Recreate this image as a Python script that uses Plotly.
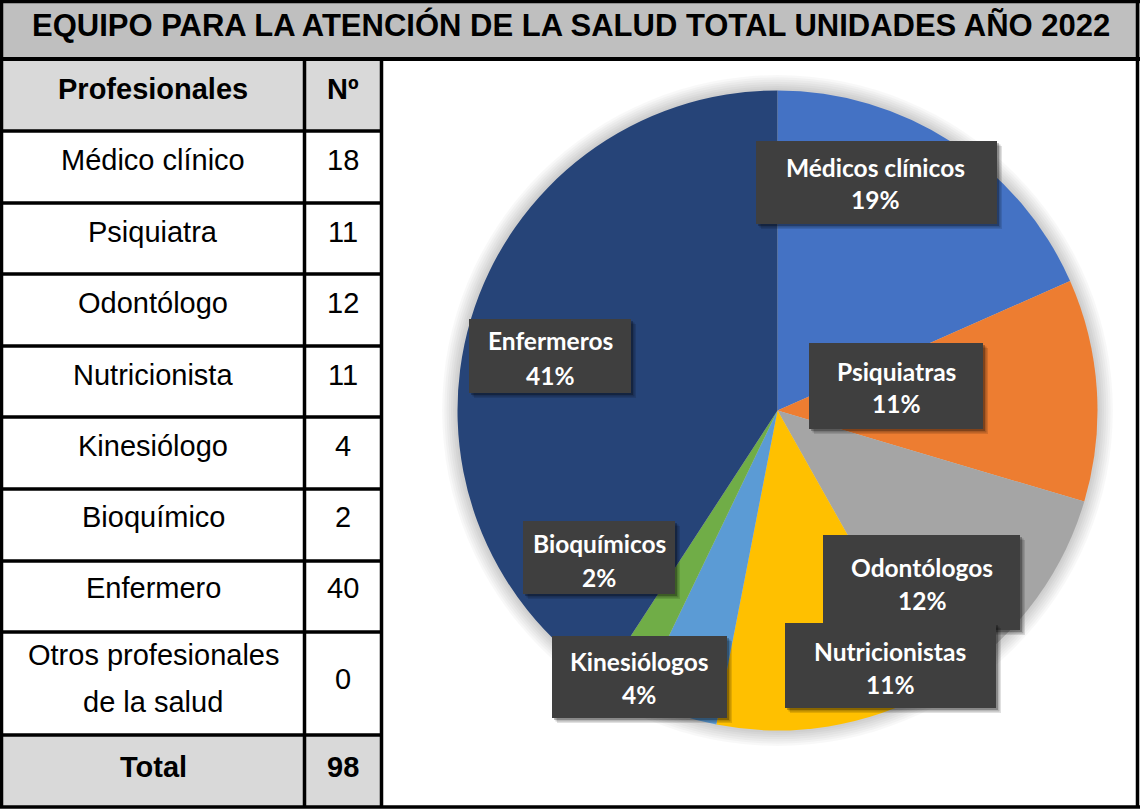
import plotly.graph_objects as go

# ---------------- data ----------------
title_text = "EQUIPO PARA LA ATENCIÓN DE LA SALUD TOTAL UNIDADES AÑO 2022"
header = ["Profesionales", "Nº"]
profesionales = ["Médico clínico", "Psiquiatra", "Odontólogo", "Nutricionista",
                 "Kinesiólogo", "Bioquímico", "Enfermero",
                 "Otros profesionales|de la salud"]
cantidades = [18, 11, 12, 11, 4, 2, 40, 0]
total_label = "Total"
total_value = 98

pie_labels = ["Médicos clínicos", "Psiquiatras", "Odontólogos", "Nutricionistas",
              "Kinesiólogos", "Bioquímicos", "Enfermeros"]
pie_values = [18, 11, 12, 11, 4, 2, 40]
pie_pct_text = ["19%", "11%", "12%", "11%", "4%", "2%", "41%"]

# ---------------- styles / layout ----------------
W, H = 1140, 809
pie_colors = ["#4472C4", "#ED7D31", "#A5A5A5", "#FFC000", "#5B9BD5", "#70AD47", "#264478"]


def X(px):
    return px / W


def Y(py):
    return 1 - py / H


# table geometry (pixels)
col_x = [0, 304.5, 381.5]
title_bottom = 59
row_lines = [59, 131, 203, 274, 346, 417, 489, 561, 632, 735, 807]
text_y = [160, 232, 303, 375, 446, 517, 588]
otros_lines_y = [655, 702]

# pie geometry
cx, cy, R = 777.5, 410.5, 320

# label boxes: (x0, y0, x1, y1) and text centre lines
label_boxes = [
    (756, 141, 997, 224),
    (809, 343, 983, 429),
    (823, 535, 1020, 630),
    (785, 623, 996, 708),
    (552, 636, 727, 718),
    (523, 521, 675, 594),
    (469, 319, 631, 393),
]
label_text_pos = [
    (876, 167, 199),
    (896, 371, 403),
    (922, 567, 600),
    (890, 651, 684),
    (639, 661, 694),
    (599, 543, 577),
    (550, 341, 375),
]

fig = go.Figure()
fig.add_trace(go.Pie(
    labels=pie_labels,
    values=pie_values,
    marker=dict(colors=pie_colors, line=dict(width=0)),
    sort=False,
    direction="clockwise",
    rotation=0,
    textinfo="none",
    hoverinfo="label+value",
    showlegend=False,
    domain=dict(x=[X(cx - R), X(cx + R)], y=[Y(cy + R), Y(cy - R)]),
))

shapes = []
annotations = []

# pie glow
for i in range(7, 0, -1):
    r = R + 2.2 * i
    shapes.append(dict(type="circle", xref="paper", yref="paper",
                       x0=X(cx - r), x1=X(cx + r), y0=Y(cy + r), y1=Y(cy - r),
                       fillcolor="rgba(0,0,0,0.028)", line=dict(width=0), layer="below"))

# fills
shapes.append(dict(type="rect", xref="paper", yref="paper", x0=0, x1=1,
                   y0=Y(title_bottom), y1=1, fillcolor="#BFBFBF", line=dict(width=0), layer="below"))
shapes.append(dict(type="rect", xref="paper", yref="paper", x0=X(0), x1=X(col_x[2]),
                   y0=Y(row_lines[1]), y1=Y(row_lines[0]), fillcolor="#D9D9D9",
                   line=dict(width=0), layer="below"))
shapes.append(dict(type="rect", xref="paper", yref="paper", x0=X(0), x1=X(col_x[2]),
                   y0=Y(row_lines[-1]), y1=Y(row_lines[-2]), fillcolor="#D9D9D9",
                   line=dict(width=0), layer="below"))


def hline(py, x0, x1, w=3.5):
    shapes.append(dict(type="line", xref="paper", yref="paper", x0=X(x0), x1=X(x1),
                       y0=Y(py), y1=Y(py), line=dict(color="black", width=w)))


def vline(px, y0, y1, w=3.5):
    shapes.append(dict(type="line", xref="paper", yref="paper", x0=X(px), x1=X(px),
                       y0=Y(y0), y1=Y(y1), line=dict(color="black", width=w)))


# borders
hline(1.5, 0, W)
hline(title_bottom, 0, W, 4)
hline(807, 0, W)
vline(1.5, 0, 807)
vline(1137.5, 0, 807)
vline(col_x[1], title_bottom, 807)
vline(col_x[2], title_bottom, 807)
for ry in row_lines[1:-1]:
    hline(ry, 0, col_x[2])

# title
annotations.append(dict(x=X(571), y=Y(25), xref="paper", yref="paper", text=f"<b>{title_text}</b>",
                        showarrow=False, font=dict(family="Liberation Sans, Arial", size=31, color="black"),
                        xanchor="center", yanchor="middle"))

tfont = dict(family="Liberation Sans, Arial", size=29, color="black")
c1 = (col_x[0] + col_x[1]) / 2 + 1
c2 = (col_x[1] + col_x[2]) / 2
annotations.append(dict(x=X(c1), y=Y(89), xref="paper", yref="paper", text=f"<b>{header[0]}</b>",
                        showarrow=False, font=tfont, xanchor="center", yanchor="middle"))
annotations.append(dict(x=X(c2), y=Y(89), xref="paper", yref="paper", text=f"<b>{header[1]}</b>",
                        showarrow=False, font=tfont, xanchor="center", yanchor="middle"))

for i, (name, val) in enumerate(zip(profesionales, cantidades)):
    if "|" in name:
        parts = name.split("|")
        for part, ly in zip(parts, otros_lines_y):
            annotations.append(dict(x=X(c1), y=Y(ly), xref="paper", yref="paper", text=part,
                                    showarrow=False, font=tfont, xanchor="center", yanchor="middle"))
        vy = sum(otros_lines_y) / 2
    else:
        vy = text_y[i]
        annotations.append(dict(x=X(c1), y=Y(vy), xref="paper", yref="paper", text=name,
                                showarrow=False, font=tfont, xanchor="center", yanchor="middle"))
    annotations.append(dict(x=X(c2), y=Y(vy), xref="paper", yref="paper", text=str(val),
                            showarrow=False, font=tfont, xanchor="center", yanchor="middle"))

annotations.append(dict(x=X(c1), y=Y(767), xref="paper", yref="paper", text=f"<b>{total_label}</b>",
                        showarrow=False, font=tfont, xanchor="center", yanchor="middle"))
annotations.append(dict(x=X(c2), y=Y(767), xref="paper", yref="paper", text=f"<b>{total_value}</b>",
                        showarrow=False, font=tfont, xanchor="center", yanchor="middle"))

# pie label boxes
lfont = dict(family="Lato, Open Sans, sans-serif", size=24.5, color="white")
for (x0, y0, x1, y1), (tx, ly1, ly2), lab, pct in zip(label_boxes, label_text_pos, pie_labels, pie_pct_text):
    for off, a in ((5, 0.12), (3.5, 0.18), (2, 0.25)):
        shapes.append(dict(type="rect", xref="paper", yref="paper",
                           x0=X(x0 + off), x1=X(x1 + off), y0=Y(y1 + off), y1=Y(y0 + off),
                           fillcolor=f"rgba(0,0,0,{a})", line=dict(width=0), layer="above"))
    shapes.append(dict(type="rect", xref="paper", yref="paper",
                       x0=X(x0), x1=X(x1), y0=Y(y1), y1=Y(y0),
                       fillcolor="#3F3F3F", line=dict(width=0), layer="above"))
    annotations.append(dict(x=X(tx), y=Y(ly1), xref="paper", yref="paper", text=f"<b>{lab}</b>",
                            showarrow=False, font=lfont, xanchor="center", yanchor="middle"))
    annotations.append(dict(x=X(tx), y=Y(ly2), xref="paper", yref="paper", text=f"<b>{pct}</b>",
                            showarrow=False, font=lfont, xanchor="center", yanchor="middle"))

fig.update_layout(
    width=W, height=H,
    margin=dict(l=0, r=0, t=0, b=0),
    paper_bgcolor="white",
    plot_bgcolor="white",
    shapes=shapes,
    annotations=annotations,
    showlegend=False,
)

fig.write_html("out.html", config={"displayModeBar": False},
               post_script="document.body.style.margin='0';document.body.style.overflow='hidden';")
